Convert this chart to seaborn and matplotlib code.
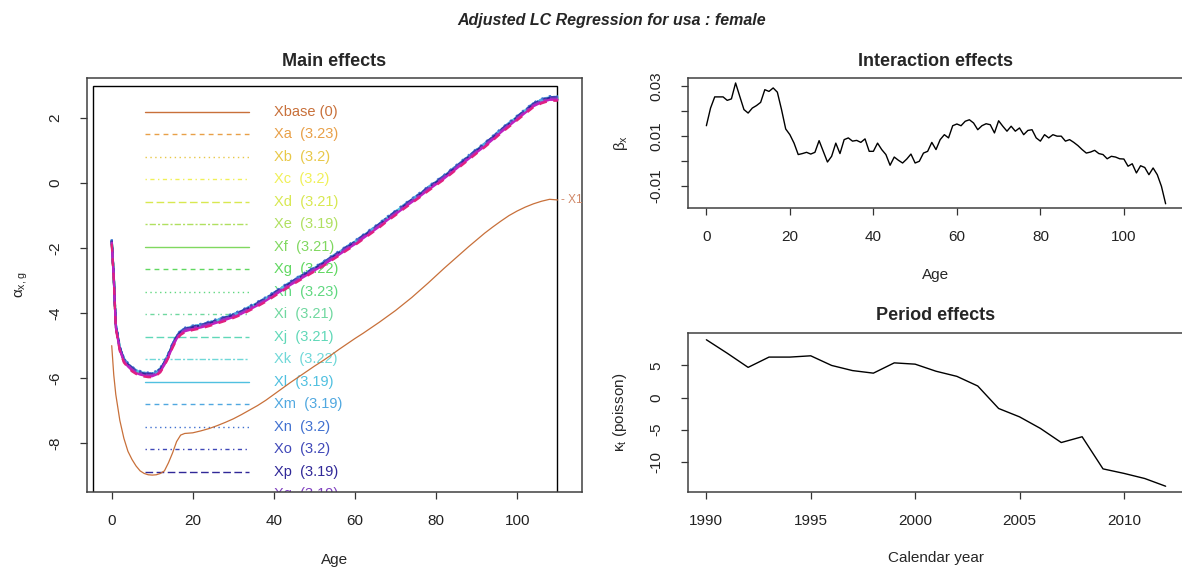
import numpy as np
import pandas as pd
import seaborn as sns
import matplotlib.pyplot as plt
from matplotlib.patches import Rectangle

# ---- main effects (alpha_x) ----
ages_main = [0, 0.5, 1, 2, 3, 4, 5, 6, 7, 8, 9, 10, 11, 12, 13, 14, 15, 16, 17, 18,
             20, 22, 24, 26, 28, 30, 32, 34, 36, 38, 40, 42, 44, 46, 48, 50, 52, 54,
             56, 58, 60, 62, 64, 66, 68, 70, 72, 74, 76, 78, 80, 82, 84, 86, 88, 90,
             92, 94, 96, 98, 100, 102, 104, 106, 108, 110]
alpha_fit = [-1.8, -2.9, -4.4, -5.1, -5.45, -5.6, -5.72, -5.8, -5.85, -5.88, -5.9, -5.9,
             -5.85, -5.75, -5.55, -5.3, -5.0, -4.75, -4.6, -4.52,
             -4.45, -4.4, -4.33, -4.25, -4.17, -4.08, -3.98, -3.85, -3.72, -3.58, -3.42,
             -3.26, -3.1, -2.95, -2.8, -2.65, -2.5, -2.33, -2.17, -2.0, -1.84, -1.66,
             -1.48, -1.3, -1.1, -0.92, -0.73, -0.55, -0.37, -0.18, 0.0, 0.18, 0.38, 0.58,
             0.78, 0.98, 1.17, 1.38, 1.6, 1.8, 2.0, 2.2, 2.4, 2.52, 2.6, 2.6]
alpha_base = [-5.0, -5.9, -6.5, -7.3, -7.85, -8.25, -8.5, -8.7, -8.85, -8.93, -8.97, -8.98,
              -8.97, -8.93, -8.85, -8.6, -8.3, -7.95, -7.75, -7.7,
              -7.68, -7.62, -7.55, -7.46, -7.36, -7.25, -7.12, -6.98, -6.84, -6.68, -6.5,
              -6.32, -6.14, -5.97, -5.8, -5.63, -5.47, -5.3, -5.12, -4.95, -4.78, -4.62,
              -4.45, -4.28, -4.1, -3.92, -3.72, -3.52, -3.3, -3.08, -2.85, -2.62, -2.4,
              -2.18, -1.96, -1.75, -1.54, -1.35, -1.17, -1.0, -0.86, -0.74, -0.64, -0.56,
              -0.5, -0.52]

series_names = ["Xa", "Xb", "Xc", "Xd", "Xe", "Xf", "Xg", "Xh", "Xi", "Xj", "Xk", "Xl",
                "Xm", "Xn", "Xo", "Xp", "Xq", "Xr", "Xs"]
series_shift = [0.0, 0.0, 0.0, 0.0, 0.0, 0.0, 0.0, 0.0, 0.02, 0.02, 0.03, 0.04,
                0.05, 0.07, 0.04, 0.02, 0.0, -0.04, -0.07]
series_colors = ["#E8A048", "#E8C848", "#F0F058", "#D8E850", "#B0E060", "#80D860",
                 "#60D860", "#60D880", "#70D8A0", "#60D8B8", "#70D8D8", "#50C0E0",
                 "#50A8E0", "#4070D0", "#4048B8", "#302898", "#8040C0", "#C020C0",
                 "#E02080"]
legend_names = ["Xbase (0)", "Xa  (3.23)", "Xb  (3.2)", "Xc  (3.2)", "Xd  (3.21)",
                "Xe  (3.19)", "Xf  (3.21)", "Xg  (3.22)", "Xh  (3.23)", "Xi  (3.21)",
                "Xj  (3.21)", "Xk  (3.22)", "Xl  (3.19)", "Xm  (3.19)", "Xn  (3.2)",
                "Xo  (3.2)", "Xp  (3.19)", "Xq  (3.19)"]
base_color = "#C8703A"

# ---- interaction effects (beta_x) ----
ages_beta = list(range(0, 111))
beta_x = [0.0142, 0.0213, 0.0258, 0.0258, 0.0258, 0.0244, 0.025, 0.0314, 0.026, 0.0207,
          0.0193, 0.0213, 0.0223, 0.0236, 0.0287, 0.028, 0.0294, 0.0277, 0.0207, 0.0129,
          0.0106, 0.0072, 0.0026, 0.003, 0.0035, 0.0028, 0.0035, 0.0082, 0.0039, -0.0004,
          0.0019, 0.0072, 0.003, 0.0086, 0.0093, 0.008, 0.0083, 0.0075, 0.0089, 0.0039,
          0.0039, 0.0072, 0.0046, 0.0026, -0.0017, 0.0016, 0.0003, -0.0008, 0.0008, 0.0028,
          -0.0008, -0.0001, 0.0032, 0.0039, 0.0075, 0.0046, 0.0086, 0.0106, 0.0093, 0.0142,
          0.0149, 0.0142, 0.016, 0.0166, 0.0153, 0.0126, 0.0142, 0.015, 0.0146, 0.0113,
          0.0162, 0.014, 0.012, 0.014, 0.012, 0.0133, 0.0106, 0.0123, 0.0126, 0.0093,
          0.008, 0.0106, 0.0093, 0.0106, 0.01, 0.01, 0.008, 0.0086, 0.0075, 0.0062,
          0.0046, 0.0032, 0.0036, 0.0043, 0.003, 0.0026, 0.0009, 0.0019, 0.0016, 0.0009,
          0.0008, -0.0021, -0.0011, -0.0048, -0.0019, -0.0026, -0.0055, -0.0028, -0.0055,
          -0.0102, -0.0172]

# ---- period effects (kappa_t) ----
years = list(range(1990, 2013))
kappa_t = [9.0, 6.9, 4.7, 6.3, 6.3, 6.5, 5.0, 4.2, 3.8, 5.4, 5.2, 4.1, 3.3, 1.8, -1.7,
           -3.0, -4.8, -7.0, -6.1, -11.1, -11.8, -12.6, -13.8]

# R line types: solid, dashed, dotted, dotdash, longdash, twodash
r_dashes = ["", (3.5, 3.0), (1, 2.5), (1, 2.5, 3, 2.5), (5.5, 2.5), (1.5, 1.5, 4.5, 1.5)]

sns.set_style("white")
plt.rcParams["font.family"] = ["Liberation Sans", "DejaVu Sans"]
plt.rcParams["mathtext.fontset"] = "custom"
plt.rcParams["mathtext.rm"] = "Liberation Sans"
plt.rcParams["axes.unicode_minus"] = False

W, H = 1182, 572
fig = plt.figure(figsize=(W / 100, H / 100), dpi=100)


def box(px_left, px_right, px_top, px_bottom):
    return [px_left / W, 1 - px_bottom / H, (px_right - px_left) / W, (px_bottom - px_top) / H]


ax_main = fig.add_axes(box(87, 582, 78, 492))
ax_beta = fig.add_axes(box(688, 1184, 78, 208))
ax_kappa = fig.add_axes(box(688, 1184, 333, 492))

# main effects curves
rows = []
for i, name in enumerate(series_names):
    for a, v in zip(ages_main, alpha_fit):
        rows.append({"age": a, "alpha": v + series_shift[i], "series": name})
fit_df = pd.DataFrame(rows)
palette = dict(zip(series_names, series_colors))
dash_map = {name: r_dashes[(i + 1) % 6] for i, name in enumerate(series_names)}

sns.lineplot(data=pd.DataFrame({"age": ages_main, "alpha": alpha_base}),
             x="age", y="alpha", color=base_color, lw=0.9, ax=ax_main, zorder=3)
sns.lineplot(data=fit_df, x="age", y="alpha", hue="series", style="series",
             palette=palette, dashes=dash_map, lw=1.6, legend=False, sort=False,
             ax=ax_main, zorder=4)
ax_main.text(ages_main[-1] + 0.8, alpha_base[-1], "- X1", color="#D08868",
             fontsize=8.5, va="center", ha="left")

# the (clipped) legend drawn by hand, as in the original R output
ax_main.add_patch(Rectangle((0.0131, -0.4), 0.9364, 1.3795, transform=ax_main.transAxes,
                            fill=False, lw=1.0, ec="black", zorder=2))
leg_colors = [base_color] + series_colors
for i, label in enumerate(legend_names):
    fy = 0.9186 - i * 0.05435
    ax_main.plot([0.117, 0.327], [fy, fy], transform=ax_main.transAxes,
                 color=leg_colors[i], lw=1.0, zorder=2,
                 **({"dashes": r_dashes[i % 6]} if r_dashes[i % 6] else {}))
    ax_main.text(0.378, fy, label, transform=ax_main.transAxes, color=leg_colors[i],
                 fontsize=10.5, va="center", ha="left", clip_on=True, zorder=2)

ax_main.set_xlim(-6.1, 116.0)
ax_main.set_ylim(-9.5, 3.23)
ax_main.set_xticks([0, 20, 40, 60, 80, 100])
ax_main.set_yticks([-8, -6, -4, -2, 0, 2])
ax_main.set_title("Main effects", fontsize=13, fontweight="bold", pad=9)
ax_main.set_xlabel("Age", fontsize=11)
ax_main.set_ylabel(r"$\mathregular{\alpha_{x,g}}$", fontsize=11)
ax_main.xaxis.set_label_coords(0.5, -0.147)
ax_main.yaxis.set_label_coords(-0.115, 0.5)

# interaction effects
sns.lineplot(x=ages_beta, y=beta_x, color="black", lw=1.0, ax=ax_beta)
ax_beta.set_xlim(-4.4, 114.4)
ax_beta.set_ylim(-0.0189, 0.0334)
ax_beta.set_xticks([0, 20, 40, 60, 80, 100])
ax_beta.set_yticks([-0.01, 0.0, 0.01, 0.02, 0.03])
ax_beta.set_yticklabels(["-0.01", "", "0.01", "", "0.03"])
ax_beta.set_title("Interaction effects", fontsize=13, fontweight="bold", pad=9)
ax_beta.set_xlabel("Age", fontsize=11)
ax_beta.set_ylabel(r"$\mathregular{\beta_x}$", fontsize=11)
ax_beta.xaxis.set_label_coords(0.5, -0.46)
ax_beta.yaxis.set_label_coords(-0.117, 0.5)

# period effects
sns.lineplot(x=years, y=kappa_t, color="black", lw=1.0, ax=ax_kappa)
ax_kappa.set_xlim(1989.12, 2012.88)
ax_kappa.set_ylim(-14.7, 10.05)
ax_kappa.set_xticks([1990, 1995, 2000, 2005, 2010])
ax_kappa.set_yticks([-10, -5, 0, 5])
ax_kappa.set_title("Period effects", fontsize=13, fontweight="bold", pad=9)
ax_kappa.set_xlabel("Calendar year", fontsize=11)
ax_kappa.set_ylabel(r"$\mathregular{\kappa_t}$ (poisson)", fontsize=11)
ax_kappa.xaxis.set_label_coords(0.5, -0.371)
ax_kappa.yaxis.set_label_coords(-0.119, 0.5)

for ax in (ax_main, ax_beta, ax_kappa):
    for sp in ax.spines.values():
        sp.set_visible(True)
        sp.set_color("#404040")
        sp.set_linewidth(1.1)
    ax.tick_params(axis="both", direction="out", length=5, width=0.9, color="#333333",
                   labelsize=11, labelcolor="#222222", bottom=True, left=True)
    ax.tick_params(axis="x", pad=11)
    ax.tick_params(axis="y", pad=13)
    for lab in ax.get_yticklabels():
        lab.set_rotation(90)
        lab.set_va("center")
    ax.grid(False)

fig.suptitle("Adjusted LC Regression for usa : female", x=612 / W, y=1 - 20 / H,
             va="center", fontsize=11.5, fontweight="bold", fontstyle="italic")

fig.savefig("out.png", dpi=100)
